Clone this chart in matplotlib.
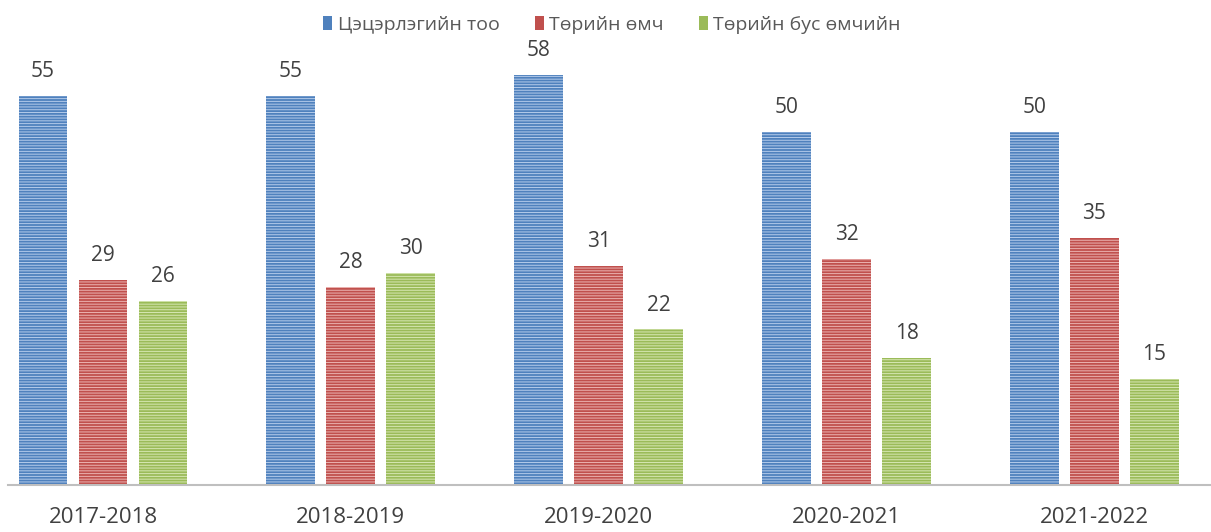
import matplotlib
matplotlib.use("Agg")
import matplotlib.pyplot as plt
from matplotlib.patches import Patch
import numpy as np

categories = ["2017-2018", "2018-2019", "2019-2020", "2020-2021", "2021-2022"]
series_names = ["Цэцэрлэгийн тоо", "Төрийн өмч", "Төрийн бус өмчийн"]
kindergartens = [55, 55, 58, 50, 50]
state_owned = [29, 28, 31, 32, 35]
private_owned = [26, 30, 22, 18, 15]
series = [kindergartens, state_owned, private_owned]

colors = ["#4F81BD", "#C0504D", "#9BBB59"]
stripe_colors = ["#B4CBEA", "#EBB3B1", "#D6E7B3"]

plt.rcParams["font.family"] = ["Open Sans", "DejaVu Sans"]
plt.rcParams["hatch.linewidth"] = 0.7

W, H = 1211, 532
fig = plt.figure(figsize=(W / 100, H / 100), dpi=100)
ax = fig.add_axes([8 / W, 47 / H, 1 - 8 / W, 485 / H])

x = np.arange(len(categories))
width = 0.197
step = 0.242
for i, (vals, c, sc) in enumerate(zip(series, colors, stripe_colors)):
    pos = x + (i - 1) * step
    bars = ax.bar(pos, vals, width, color=c, edgecolor=sc, linewidth=0, hatch="------")
    for b, v in zip(bars, vals):
        ax.annotate(str(v), (b.get_x() + b.get_width() / 2, v), xytext=(0, 17.5),
                    textcoords="offset points", ha="center", va="center",
                    fontsize=15, color="#404040")

ax.set_xlim(-0.383, 4.47)
ax.set_ylim(0, 68.6)
ax.set_xticks(x)
ax.set_xticklabels(categories, fontsize=16, color="#404040")
ax.tick_params(axis="x", length=0, pad=16)
ax.set_yticks([])
for s in ["top", "right", "left"]:
    ax.spines[s].set_visible(False)
ax.spines["bottom"].set_color("#BFBFBF")
ax.spines["bottom"].set_linewidth(1.5)

handles = [Patch(facecolor=c, edgecolor="none") for c in colors]
fig.legend(handles, series_names, loc="center", bbox_to_anchor=(612 / W, 1 - 25 / H),
           ncol=3, frameon=False, fontsize=14, labelcolor="#595959",
           handlelength=0.46, handleheight=0.72, handletextpad=0.28, columnspacing=1.8)

fig.savefig("out.png", dpi=100)
